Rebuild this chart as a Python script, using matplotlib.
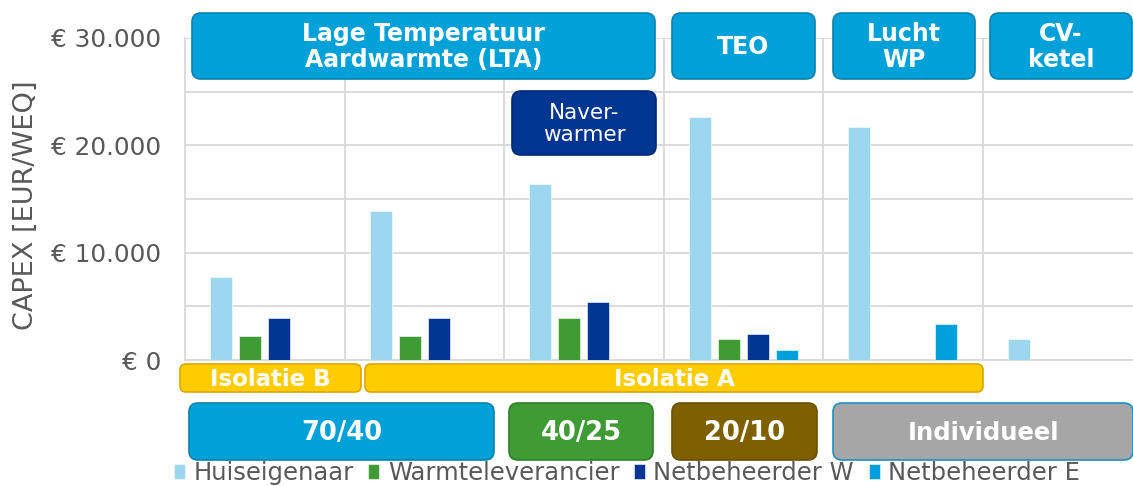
import matplotlib
matplotlib.use("Agg")
import matplotlib.pyplot as plt
from matplotlib.patches import FancyBboxPatch
from matplotlib.transforms import Affine2D
import numpy as np

W, H, DPI = 1133, 486, 100

# ---- data ----
groups = ["LTA 70/40 Isolatie B", "LTA 70/40 Isolatie A", "LTA 40/25 Naverwarmer",
          "TEO 20/10", "Lucht WP", "CV-ketel"]
series = ["Huiseigenaar", "Warmteleverancier", "Netbeheerder W", "Netbeheerder E"]
huiseigenaar = [7750, 13900, 16400, 22600, 21750, 2000]
warmteleverancier = [2200, 2200, 3950, 2000, 0, 0]
netbeheerder_w = [3950, 3950, 5450, 2400, 0, 0]
netbeheerder_e = [0, 0, 0, 900, 3350, 0]
yticks = [0, 10000, 20000, 30000]
ytick_labels = ["€ 0", "€ 10.000", "€ 20.000", "€ 30.000"]

colors = ["#9DD7EF", "#3F9C35", "#003591", "#00A0DC"]
values = [huiseigenaar, warmteleverancier, netbeheerder_w, netbeheerder_e]

fig = plt.figure(figsize=(W / DPI, H / DPI), dpi=DPI)
plt.rcParams['font.family'] = ['DejaVu Sans']

# axes in pixel layout
left, right, top, bottom = 185, 1142, 38, 360
ax = fig.add_axes([left / W, 1 - bottom / H, (right - left) / W, (bottom - top) / H])

x = np.arange(len(groups)) + 0.5
offsets = [-0.2727, -0.091, 0.091, 0.2727]
bw = 0.138
handles = []
for vals, off, c, name in zip(values, offsets, colors, series):
    h = ax.bar(x + off, vals, width=bw, color=c, label=name, zorder=3,
               edgecolor="white", linewidth=0.4)
    handles.append(h)

ax.set_xlim(0, 6)
ax.set_ylim(0, 30000)
ax.set_xticks([])
ax.set_yticks(yticks)
ax.set_yticklabels(ytick_labels, fontsize=17.8, color="#595959")
ax.set_yticks(np.arange(0, 30001, 5000), minor=True)
ax.tick_params(axis="y", which="both", length=0, pad=17)
ax.grid(axis="y", which="both", color="#D9D9D9", linewidth=1.3, zorder=0)
for gx in range(1, 6):
    ax.axvline(gx, color="#D9D9D9", linewidth=1.3, zorder=0)
for s in ["top", "right"]:
    ax.spines[s].set_visible(False)
ax.spines["left"].set_color("#D9D9D9")
ax.spines["left"].set_linewidth(1.3)
ax.spines["bottom"].set_color("#D9D9D9")
ax.spines["bottom"].set_linewidth(1.3)
ax.set_ylabel("CAPEX [EUR/WEQ]", fontsize=19.5, color="#595959")
ax.yaxis.set_label_coords((39 - left) / (right - left), 0.48)

# pixel transform (origin top-left)
pix = Affine2D().scale(1 / DPI, -1 / DPI).translate(0, H / DPI) + fig.dpi_scale_trans


def box(x0, y0, x1, y1, fc, ec, text, tc="white", fs=17, weight="bold", r=9, ls=1.1):
    p = FancyBboxPatch((x0, y0), x1 - x0, y1 - y0,
                       boxstyle=f"round,pad=0,rounding_size={r}",
                       fc=fc, ec=ec, lw=1.2, transform=pix, figure=fig, zorder=5)
    fig.patches.append(p)
    fig.text((x0 + x1) / 2, (y0 + y1) / 2 + 1, text, transform=pix, ha="center",
             va="center", color=tc, fontsize=fs, fontweight=weight,
             linespacing=ls, zorder=6)


blue = "#00A0D8"
blue_ec = "#0A82B0"
box(192, 13, 655, 79, blue, blue_ec, "Lage Temperatuur\nAardwarmte (LTA)")
box(672, 13, 815, 79, blue, blue_ec, "TEO")
box(833, 13, 975, 79, blue, blue_ec, "Lucht\nWP")
box(990, 13, 1132, 79, blue, blue_ec, "CV-\nketel")
box(512, 91, 656, 155, "#003591", "#002A75", "Naver-\nwarmer", fs=15.5, weight="normal")

box(180, 364, 361, 392, "#FFCC00", "#D9A800", "Isolatie B", fs=16.5, r=6)
box(365, 364, 983, 392, "#FFCC00", "#D9A800", "Isolatie A", fs=16.5, r=6)

box(189, 403, 494, 460, blue, blue_ec, "70/40", fs=18.5)
box(509, 403, 653, 460, "#3F9C35", "#2F7F28", "40/25", fs=18.5)
box(672, 403, 817, 460, "#7F6000", "#6A5000", "20/10", fs=18.5)
box(833, 403, 1133, 460, "#A6A6A6", "#1F8FC0", "Individueel", fs=17.5)

leg = fig.legend(handles=handles, labels=series, loc="center",
                 bbox_to_anchor=(627 / W, 1 - 473 / H), ncol=4, frameon=False,
                 fontsize=17.5, handlelength=0.45, handleheight=0.6,
                 handletextpad=0.35, columnspacing=0.6, borderpad=0)
for t in leg.get_texts():
    t.set_color("#595959")

fig.savefig("out.png", dpi=DPI)
